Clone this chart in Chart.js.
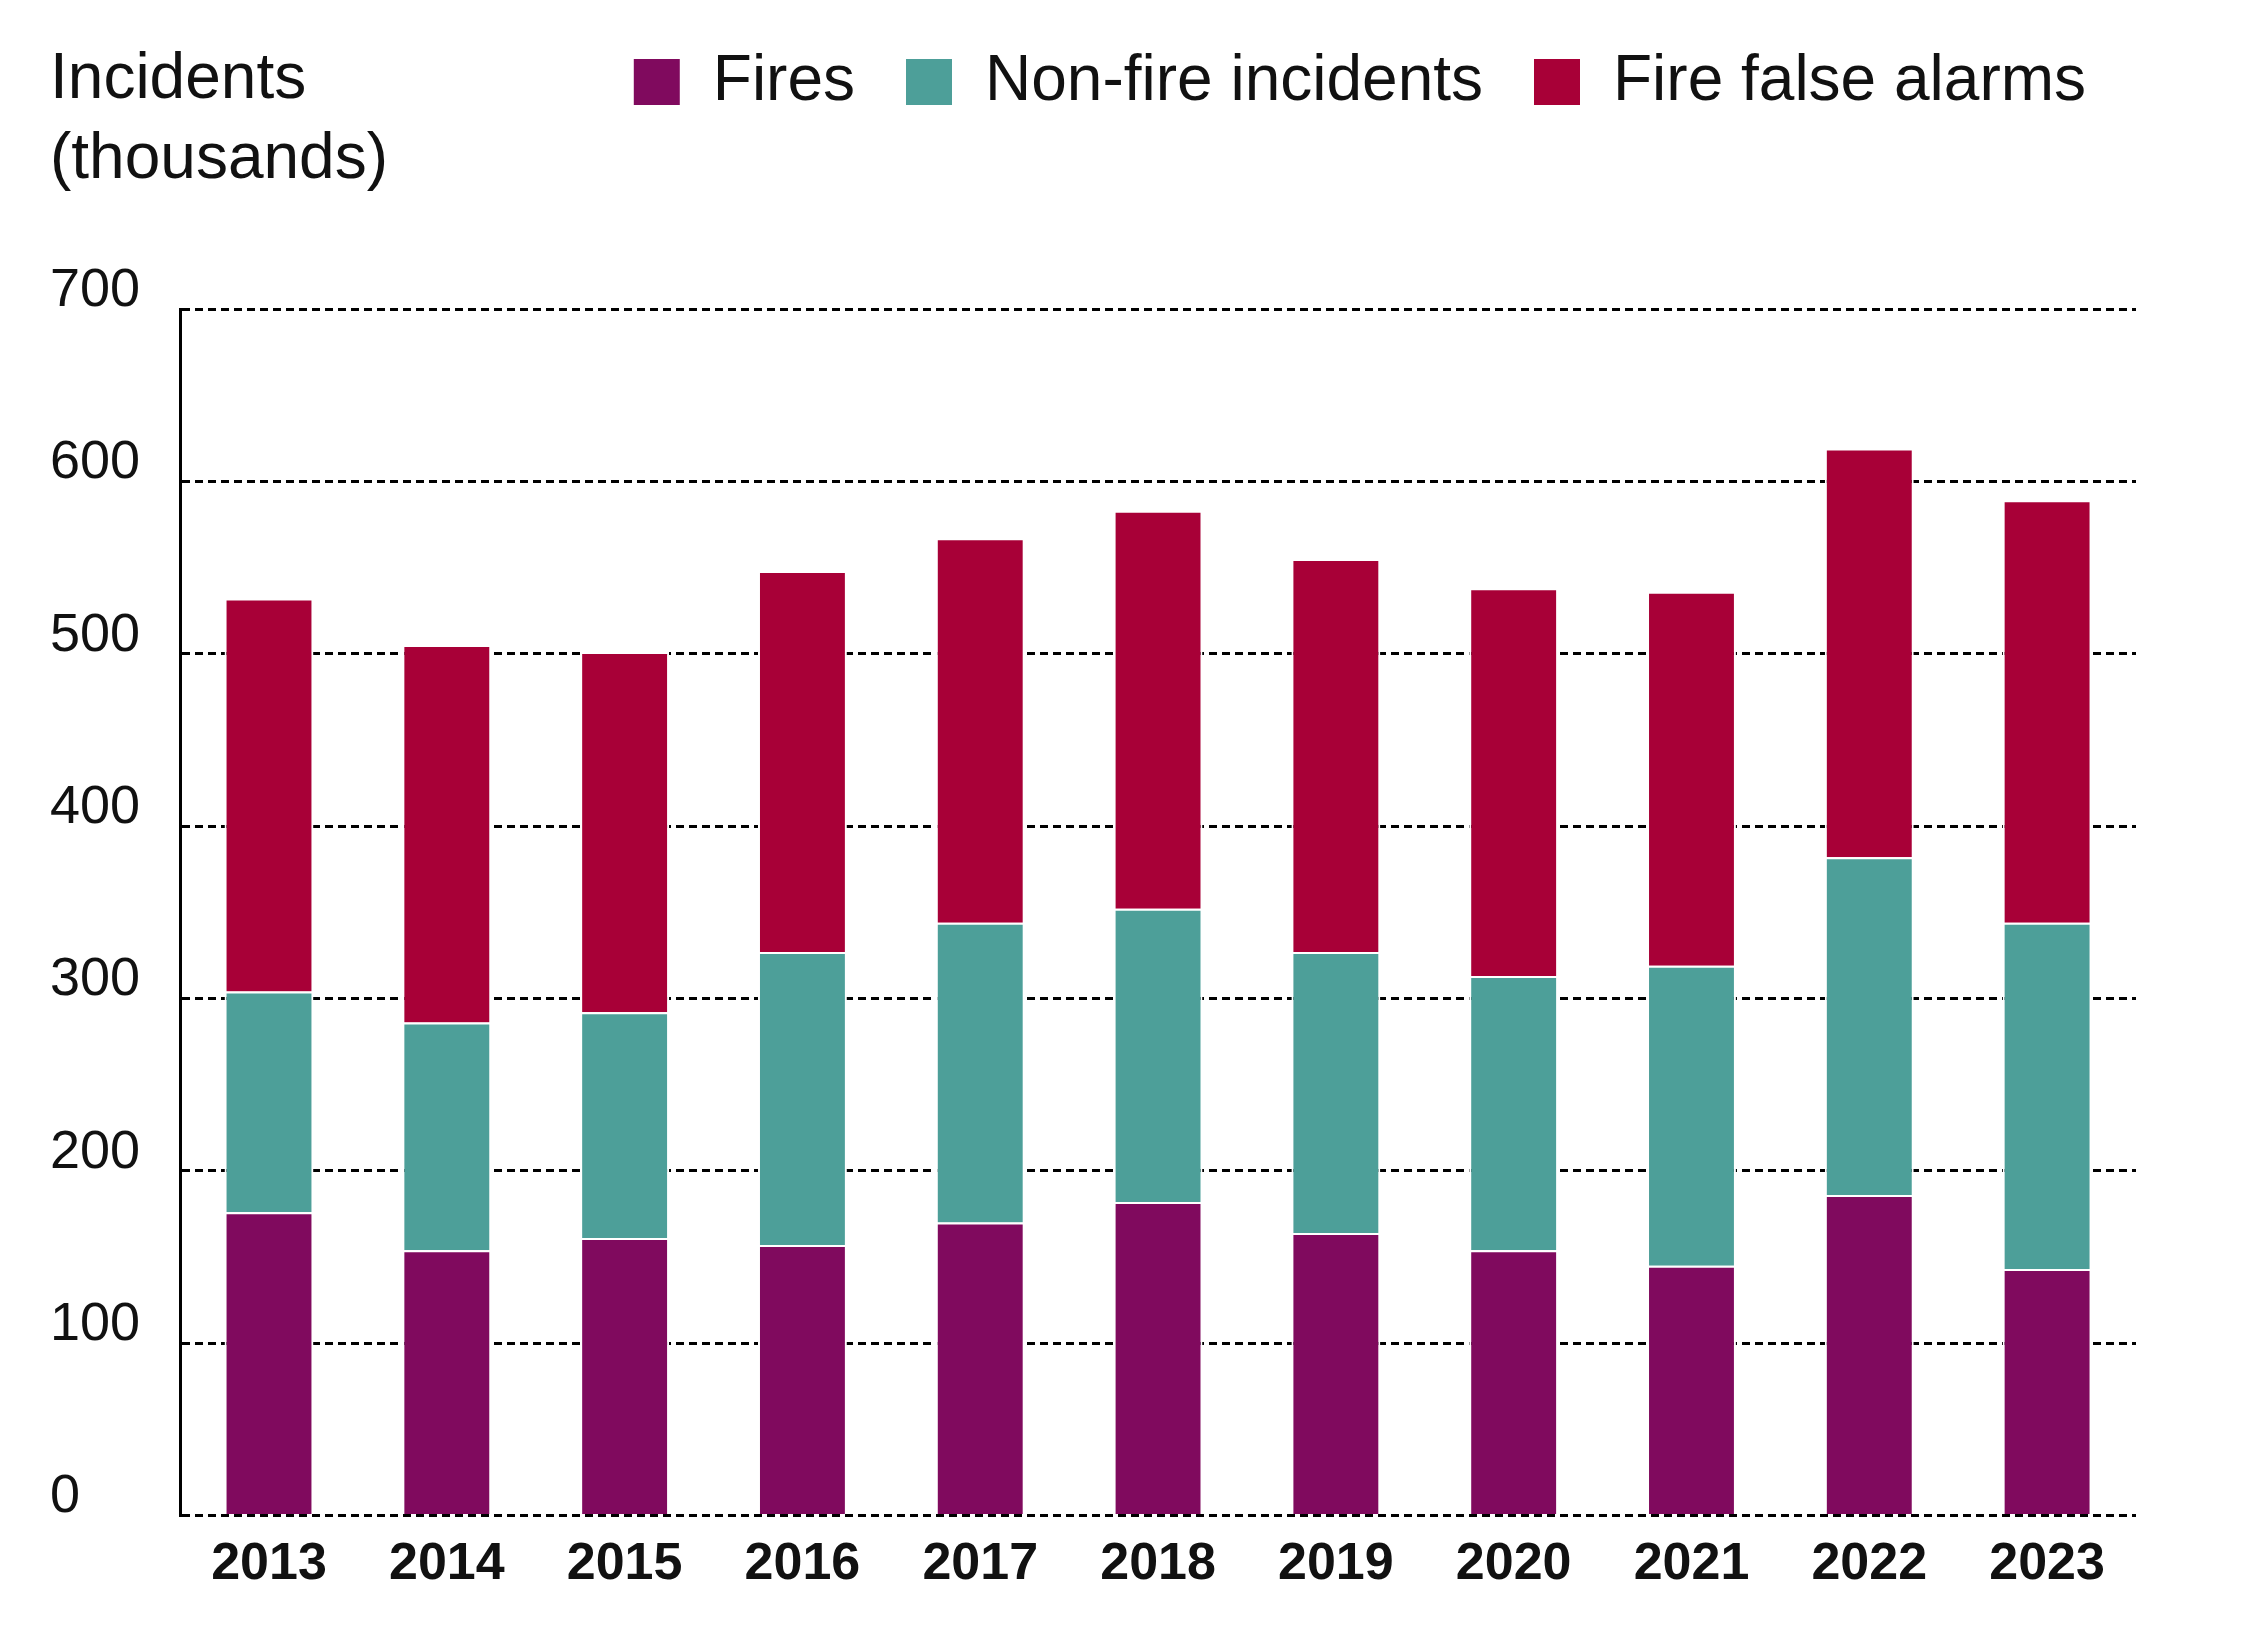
<!DOCTYPE html>
<html>
<head>
<meta charset="utf-8">
<script src="https://cdn.jsdelivr.net/npm/chart.js"></script>
<style>
  body { margin: 0; background: #fff; font-family: "Liberation Sans", Arial, sans-serif; }
  #wrap { position: relative; width: 2246px; height: 1636px; }
  #ytitle { position: absolute; left: 50px; top: 36px; font-size: 64px; line-height: 80px; color: #111; }
</style>
</head>
<body>
<div id="wrap">
  <div id="ytitle">Incidents<br>(thousands)</div>
  <canvas id="myChart" width="2246" height="1636"></canvas>
</div>
<script>
  const years = ['2013','2014','2015','2016','2017','2018','2019','2020','2021','2022','2023'];
  const fires = [176, 154, 161, 157, 170, 182, 164, 154, 145, 186, 143];
  const nonFire = [128, 132, 131, 170, 174, 170, 163, 159, 174, 196, 201];
  const falseAlarms = [228, 219, 209, 221, 223, 231, 228, 225, 217, 237, 245];
  const yTicks = [0, 100, 200, 300, 400, 500, 600, 700];

  function ds(label, values, colour) {
    return { label: label, data: values, backgroundColor: colour, borderColor: '#fff',
             borderWidth: 2, barPercentage: 0.5, categoryPercentage: 1 };
  }

  // taller legend box pushes the plot down, solid left axis line
  const layoutPlugin = {
    id: 'layoutTweaks',
    beforeInit(chart) {
      const orig = chart.legend.fit;
      chart.legend.fit = function () { orig.call(this); this.height += 185; };
    },
    afterDraw(chart) {
      const a = chart.chartArea, c = chart.ctx;
      c.save(); c.strokeStyle = '#000'; c.lineWidth = 2;
      c.beginPath(); c.moveTo(a.left, a.top); c.lineTo(a.left, a.bottom); c.stroke();
      c.restore();
    }
  };

  const config = {
    type: 'bar',
    data: {
      labels: years,
      datasets: [
        ds('Fires', fires, '#800a5e'),
        ds('Non-fire incidents', nonFire, '#4d9f99'),
        ds('Fire false alarms', falseAlarms, '#a80037')
      ]
    },
    options: {
      responsive: false,
      animation: false,
      layout: { padding: { left: 50, right: 110, top: 0, bottom: 30 } },
      plugins: {
        legend: {
          position: 'top', align: 'end',
          labels: { font: { size: 64, family: 'Liberation Sans' }, color: '#111',
                    boxWidth: 48, boxHeight: 48, padding: 50 }
        },
        tooltip: { enabled: false }
      },
      scales: {
        x: {
          stacked: true,
          grid: { display: false },
          border: { display: false },
          ticks: { font: { size: 52, weight: 'bold', family: 'Liberation Sans' }, color: '#111', padding: 10 }
        },
        y: {
          stacked: true, min: 0, max: 700,
          afterBuildTicks: function (axis) { axis.ticks = yTicks.map(v => ({ value: v })); },
          grid: { color: '#000', lineWidth: 3, drawTicks: false },
          border: { display: true, color: '#000', width: 3, dash: [8, 5] },
          ticks: { font: { size: 54, family: 'Liberation Sans' }, color: '#111',
                   crossAlign: 'far', padding: 20, labelOffset: -18 }
        }
      }
    },
    plugins: [layoutPlugin]
  };

  const myChart = new Chart(document.getElementById('myChart'), config);
</script>
</body>
</html>
